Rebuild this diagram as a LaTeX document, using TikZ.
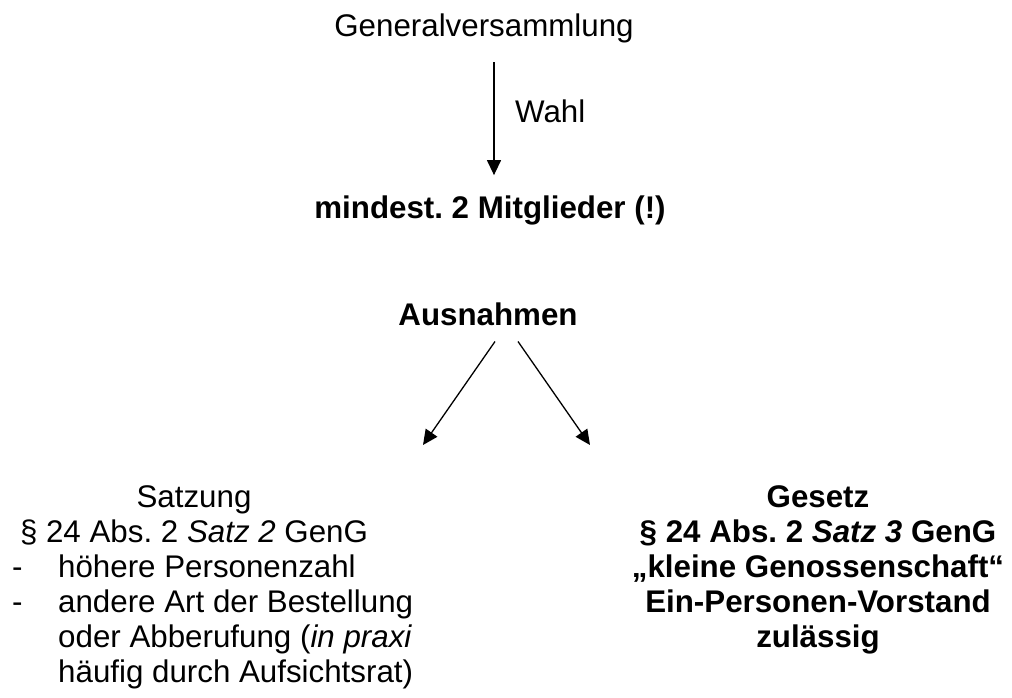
\documentclass[tikz,border=0pt]{standalone}
\usepackage{fontspec}
\setmainfont{Liberation Sans}
\usetikzlibrary{arrows.meta}
\frenchspacing

\begin{document}
\begin{tikzpicture}[x=1pt,y=-1pt]
% stile fuer text und pfeile
\tikzstyle{pfeil} = [line width=1.3pt,-{Triangle[length=15pt,width=14pt]}]
\tikzstyle{txt} = [inner sep=0pt,font=\fontsize{31.3}{35}\selectfont]
\tikzstyle{fett} = [txt,font=\fontsize{31.3}{35}\selectfont\bfseries]
% rahmen des bildes
\useasboundingbox (0,0) rectangle (1012,698);
% --------------------------------------
% obere knoten
\node (gv) [txt,anchor=base] at (484,37) {Generalversammlung};
\node (mind) [fett,anchor=base] at (490,218) {mindest. 2 Mitglieder (!)};
\node (aus) [fett,anchor=base] at (488,325) {Ausnahmen};
% untere bloecke
\node (satz) [txt,anchor=north,align=center] at (194,485.5)
 {Satzung\\§ 24 Abs. 2 \textit{Satz 2} GenG};
\node (liste) [txt,anchor=north west,align=left] at (12,554.5)
 {\makebox[46pt][l]{-}höhere Personenzahl\\
  \makebox[46pt][l]{-}andere Art der Bestellung\\
  \hspace*{46pt}oder Abberufung (\textit{in praxi}\\
  \hspace*{46pt}häufig durch Aufsichtsrat)};
\node (gesetz) [fett,anchor=north,align=center] at (818,485.5)
 {Gesetz\\§ 24 Abs. 2 \textit{Satz 3} GenG\\„kleine Genossenschaft“\\
  Ein-Personen-Vorstand\\zulässig};
% --------------------------------------
% pfeile
\draw [pfeil] ([xshift=10pt,yshift=-18.5pt]gv.south) -- ([xshift=4pt,yshift=20pt]mind.north);
\node (wahl) [txt,anchor=base west] at (515,123) {Wahl};
\draw [pfeil] ([xshift=7pt,yshift=-16pt]aus.south) -- ([xshift=229pt,yshift=40.5pt]satz.north);
\draw [pfeil] ([xshift=30pt,yshift=-16pt]aus.south) -- ([xshift=-228pt,yshift=40.5pt]gesetz.north);
% --------------------------------------
\end{tikzpicture}
\end{document}
